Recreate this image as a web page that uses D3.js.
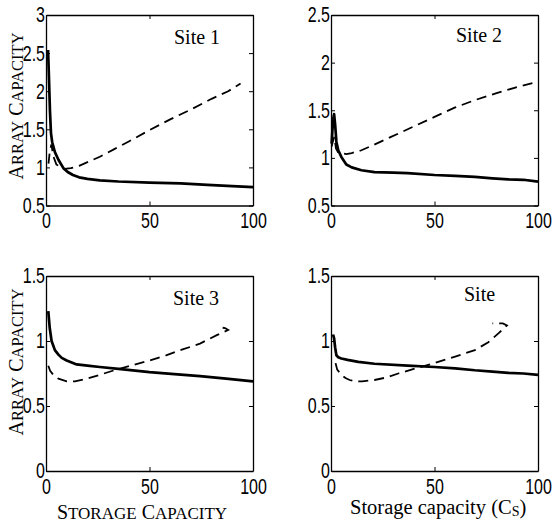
<!DOCTYPE html>
<html>
<head>
<meta charset="utf-8">
<script src="https://cdn.jsdelivr.net/npm/d3@7"></script>
<style>
  html, body { margin: 0; padding: 0; background: #fff; }
  svg { display: block; }
  .tick text { font-family: "Liberation Sans", Arial, sans-serif; font-size: 16px; fill: #000; }
  .serif { font-family: "Liberation Serif", "Times New Roman", serif; fill: #000; }
</style>
</head>
<body>
<svg id="chart" width="553" height="527"></svg>
<script>
// Storage axis ticks and per-site capacity ticks
const storageTicks = [0, 50, 100];
const capacityTicks1 = [0.5, 1, 1.5, 2, 2.5, 3];
const capacityTicks2 = [0.5, 1, 1.5, 2, 2.5];
const capacityTicks3 = [0, 0.5, 1, 1.5];
const capacityTicks4 = [0, 0.5, 1, 1.5];

const siteNames = ["Site 1", "Site 2", "Site 3", "Site"];

// Site 1
const solidStorage1 = [1.0, 1.4, 1.9, 2.4, 3, 4.3, 6, 8.4, 10.5, 13, 16, 20, 26, 35, 50, 65, 78, 90, 100];
const solidCapacity1 = [2.54, 2.2, 1.75, 1.45, 1.33, 1.2, 1.1, 0.99, 0.94, 0.9, 0.87, 0.85, 0.83, 0.815, 0.80, 0.79, 0.77, 0.755, 0.74];
const dashStorage1 = [1.2, 1.8, 2.6, 3.5, 5, 7, 9, 12, 16, 21, 26, 33, 40, 50, 60, 70, 80, 88, 94];
const dashCapacity1 = [1.05, 1.2, 1.3, 1.15, 1.04, 1.0, 0.98, 0.99, 1.02, 1.08, 1.14, 1.24, 1.34, 1.49, 1.63, 1.76, 1.9, 2.0, 2.1];

// Site 2
const solidStorage2 = [0.3, 1.0, 1.5, 2.0, 2.6, 3.5, 5, 7.4, 10, 14.7, 21, 30, 37, 50, 60, 69.5, 78, 85.6, 93, 100];
const solidCapacity2 = [1.15, 1.4, 1.46, 1.35, 1.17, 1.08, 1.01, 0.93, 0.9, 0.87, 0.85, 0.845, 0.84, 0.82, 0.81, 0.80, 0.785, 0.775, 0.77, 0.75];
const dashStorage2 = [0.3, 1.0, 1.6, 2.4, 3.4, 5, 7.4, 10, 14.7, 20, 29, 40, 50, 60, 70, 80, 90, 100];
const dashCapacity2 = [1.12, 1.18, 1.22, 1.1, 1.06, 1.05, 1.04, 1.05, 1.08, 1.13, 1.22, 1.33, 1.43, 1.53, 1.61, 1.68, 1.745, 1.8];

// Site 3
const solidStorage3 = [1.1, 1.8, 2.7, 4.3, 6, 7.6, 10, 14.8, 20, 26, 35, 50, 62, 74.4, 87, 100];
const solidCapacity3 = [1.23, 1.1, 1.0, 0.93, 0.895, 0.87, 0.85, 0.82, 0.81, 0.80, 0.785, 0.76, 0.745, 0.73, 0.71, 0.69];
const dashStorage3 = [1.1, 2, 3.5, 6, 10, 14, 19.7, 26, 34, 42, 50, 58, 66, 74.4, 82.5, 88, 86.5, 83.5];
const dashCapacity3 = [0.81, 0.77, 0.74, 0.71, 0.69, 0.69, 0.71, 0.74, 0.78, 0.815, 0.85, 0.89, 0.935, 0.98, 1.045, 1.085, 1.1, 1.105];

// Site 4
const solidStorage4 = [1.0, 1.5, 2.0, 2.6, 3.5, 5, 8, 13.2, 21, 37, 50, 60, 69.5, 78, 85.6, 93, 100];
const solidCapacity4 = [1.05, 1.02, 0.95, 0.89, 0.875, 0.865, 0.855, 0.84, 0.825, 0.81, 0.80, 0.79, 0.775, 0.765, 0.755, 0.75, 0.74];
const dashStorage4 = [2.2, 3, 4, 5, 7, 9, 11.5, 15, 21, 27, 32.5, 40, 50, 60, 69.5, 76, 81, 85, 83, 78];
const dashCapacity4 = [0.83, 0.78, 0.76, 0.74, 0.715, 0.7, 0.69, 0.69, 0.70, 0.72, 0.75, 0.785, 0.83, 0.88, 0.93, 0.99, 1.06, 1.12, 1.135, 1.135];

const zip = (xs, ys) => xs.map((x, i) => [x, ys[i]]);

const panels = [
  { box: [46, 253, 15, 205.5], yDomain: [0.5, 3], yTicks: capacityTicks1,
    solid: zip(solidStorage1, solidCapacity1), dash: zip(dashStorage1, dashCapacity1),
    name: siteNames[0], nameAt: [174, 44] },
  { box: [331, 538, 15, 205.5], yDomain: [0.5, 2.5], yTicks: capacityTicks2,
    solid: zip(solidStorage2, solidCapacity2), dash: zip(dashStorage2, dashCapacity2),
    name: siteNames[1], nameAt: [456, 42] },
  { box: [46, 253, 276, 471], yDomain: [0, 1.5], yTicks: capacityTicks3,
    solid: zip(solidStorage3, solidCapacity3), dash: zip(dashStorage3, dashCapacity3),
    name: siteNames[2], nameAt: [173, 305] },
  { box: [331, 538, 276, 471], yDomain: [0, 1.5], yTicks: capacityTicks4,
    solid: zip(solidStorage4, solidCapacity4), dash: zip(dashStorage4, dashCapacity4),
    name: siteNames[3], nameAt: [464, 301] }
];

const svg = d3.select("#chart");
const fmt = d3.format("");
const tallText = "scale(1,1.35)";

panels.forEach(p => {
  const [x0, x1, y0, y1] = p.box;
  const x = d3.scaleLinear().domain([0, 100]).range([x0, x1]);
  const y = d3.scaleLinear().domain(p.yDomain).range([y1, y0]);
  const g = svg.append("g");

  const styleAxis = sel => {
    sel.attr("font-family", null).attr("font-size", null);
    sel.select(".domain").attr("stroke", "#000").attr("stroke-width", 1.3);
    sel.selectAll(".tick line").attr("stroke", "#000").attr("stroke-width", 1);
    sel.selectAll(".tick text").attr("fill", "#000").attr("transform", tallText);
  };

  g.append("g").attr("transform", `translate(0,${y1})`)
    .call(d3.axisBottom(x).tickValues(storageTicks).tickSize(-4).tickSizeOuter(0).tickPadding(5.5).tickFormat(fmt))
    .call(styleAxis);
  g.append("g").attr("transform", `translate(0,${y0})`)
    .call(d3.axisTop(x).tickValues(storageTicks).tickSize(-4).tickSizeOuter(0).tickFormat(""))
    .call(styleAxis);
  g.append("g").attr("transform", `translate(${x0},0)`)
    .call(d3.axisLeft(y).tickValues(p.yTicks).tickSize(-4).tickSizeOuter(0).tickPadding(1).tickFormat(fmt))
    .call(styleAxis);
  g.append("g").attr("transform", `translate(${x1},0)`)
    .call(d3.axisRight(y).tickValues(p.yTicks).tickSize(-4).tickSizeOuter(0).tickFormat(""))
    .call(styleAxis);

  const line = d3.line().x(d => x(d[0])).y(d => y(d[1])).curve(d3.curveLinear);
  g.append("path").datum(p.dash).attr("d", line)
    .attr("fill", "none").attr("stroke", "#000").attr("stroke-width", 1.8)
    .attr("stroke-dasharray", "10,6");
  g.append("path").datum(p.solid).attr("d", line)
    .attr("fill", "none").attr("stroke", "#000").attr("stroke-width", 2.7)
    .attr("stroke-linejoin", "round");

  g.append("text").attr("class", "serif").attr("x", p.nameAt[0]).attr("y", p.nameAt[1])
    .attr("font-size", 20).text(p.name);
});

// Small-caps label: first letter of each word full size, the rest reduced
function smallCaps(sel, str, big, small) {
  str.split(" ").forEach((word, i) => {
    if (i > 0) sel.append("tspan").attr("font-size", big).text(" ");
    sel.append("tspan").attr("font-size", big).text(word[0]);
    sel.append("tspan").attr("font-size", small).text(word.slice(1));
  });
}

[106, 362].forEach(cy => {
  const t = svg.append("text").attr("class", "serif")
    .attr("transform", `translate(23,${cy}) rotate(-90)`)
    .attr("text-anchor", "middle");
  smallCaps(t, "ARRAY CAPACITY", 20, 16.5);
});

const xl = svg.append("text").attr("class", "serif")
  .attr("x", 142).attr("y", 519).attr("text-anchor", "middle");
smallCaps(xl, "STORAGE CAPACITY", 20, 17);

const xl2 = svg.append("text").attr("class", "serif")
  .attr("x", 350).attr("y", 514).attr("font-size", 20.5);
xl2.append("tspan").text("Storage capacity (C");
xl2.append("tspan").attr("font-size", 14).attr("dy", 2).text("S");
xl2.append("tspan").attr("dy", -2).text(")");
</script>
</body>
</html>
